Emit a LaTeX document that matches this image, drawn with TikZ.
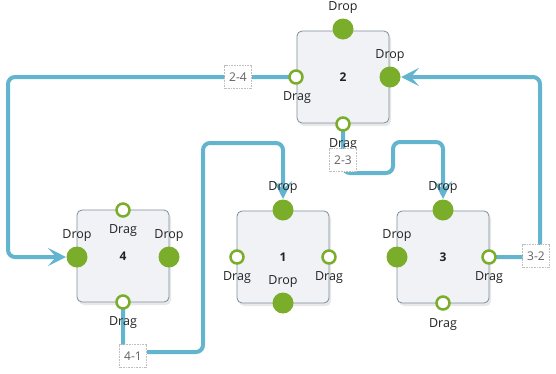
\documentclass[tikz,border=0pt]{standalone}
\usepackage{fontspec}
\setmainfont{Open Sans}
\usetikzlibrary{arrows.meta,shadows}
\definecolor{lineblue}{HTML}{62B4CF}
\definecolor{portgreen}{HTML}{7AAD2A}
\definecolor{boxfill}{HTML}{F1F2F6}
\definecolor{boxline}{HTML}{7D8C9C}
\definecolor{txt}{HTML}{222222}
\tikzset{
  x=1pt, y=-1pt,
  box/.style={draw=boxline, fill=boxfill, rounded corners=5pt, minimum width=92pt, minimum height=92pt, line width=0.8pt, inner sep=0pt,
    drop shadow={opacity=0.18, shadow xshift=2pt, shadow yshift=-3pt}, font=\fontsize{12}{14}\selectfont\bfseries, text=txt},
  dropport/.style={circle, fill=portgreen, minimum size=21pt, inner sep=0pt},
  dragport/.style={circle, draw=portgreen, fill=white, line width=2.5pt, minimum size=13pt, inner sep=0pt},
  plabel/.style={font=\fontsize{12.5}{15}\selectfont, text=txt, inner sep=0pt},
  conn/.style={draw=lineblue, line width=4pt, rounded corners=7pt},
  connarrow/.style={conn, -{Stealth[length=18pt,width=18pt,inset=8pt]}},
  elabel/.style={draw=gray!50, densely dotted, fill=white, text=gray!75!black, font=\fontsize{12}{14}\selectfont, inner sep=2pt, minimum width=27pt, minimum height=23pt, line width=0.6pt}
}
\begin{document}
\begin{tikzpicture}
\useasboundingbox (0,0) rectangle (556,373);
% boxes
\node[box] (n2) at (343,77) {2};
\node[box] (n4) at (123,256) {4};
\node[box] (n1) at (283,257) {1};
\node[box] (n3) at (443,257) {3};
% connector end points on the ports
\coordinate (c2l) at (290,77);
\coordinate (c4l) at (66,257);
\coordinate (c4b) at (123,309);
\coordinate (c1t) at (283,199);
\coordinate (c2b) at (343,131);
\coordinate (c3t) at (443,199);
\coordinate (c3r) at (496,257);
\coordinate (c2r) at (401,77);
\draw[connarrow] (c2l) -- (8,77) -- (8,257) -- (c4l);
\draw[connarrow] (c4b) -- (123,352) -- (203,352) -- (203,143) -- (283,143) -- (c1t);
\draw[connarrow] (c2b) -- (343,173) -- (393,173) -- (393,142) -- (443,142) -- (c3t);
\draw[connarrow] (c3r) -- (540,257) -- (540,77) -- (c2r);
% ports node 2
\node[dropport] (p2t) at (343,29) {};
\node[dropport] (p2r) at (390,77) {};
\node[dragport] (p2l) at (296,77) {};
\node[dragport] (p2b) at (343,124) {};
\node[plabel] at (343,8) {Drop};
\node[plabel] at (390,56) {Drop};
\node[plabel] at (297,98) {Drag};
\node[plabel] at (343,145) {Drag};
% ports node 4
\node[dragport] (p4t) at (123,210) {};
\node[dropport] (p4l) at (77,257) {};
\node[dropport] (p4r) at (169,257) {};
\node[dragport] (p4b) at (123,302) {};
\node[plabel] at (77,236) {Drop};
\node[plabel] at (123,231) {Drag};
\node[plabel] at (169,236) {Drop};
\node[plabel] at (123,323) {Drag};
% ports node 1
\node[dropport] (p1t) at (283,210) {};
\node[dragport] (p1l) at (237,257) {};
\node[dragport] (p1r) at (329,257) {};
\node[dropport] (p1b) at (283,303) {};
\node[plabel] at (283,188) {Drop};
\node[plabel] at (237,278) {Drag};
\node[plabel] at (329,278) {Drag};
\node[plabel] at (283,282) {Drop};
% ports node 3
\node[dropport] (p3t) at (443,210) {};
\node[dropport] (p3l) at (397,257) {};
\node[dragport] (p3r) at (489,257) {};
\node[dragport] (p3b) at (443,303) {};
\node[plabel] at (443,188) {Drop};
\node[plabel] at (397,236) {Drop};
\node[plabel] at (489,278) {Drag};
\node[plabel] at (443,325) {Drag};
% edge labels
\node[elabel] (l24) at (238,77) {2-4};
\node[elabel] (l41) at (133,356) {4-1};
\node[elabel] (l23) at (343,160) {2-3};
\node[elabel] (l32) at (536,256) {3-2};
\end{tikzpicture}
\end{document}
